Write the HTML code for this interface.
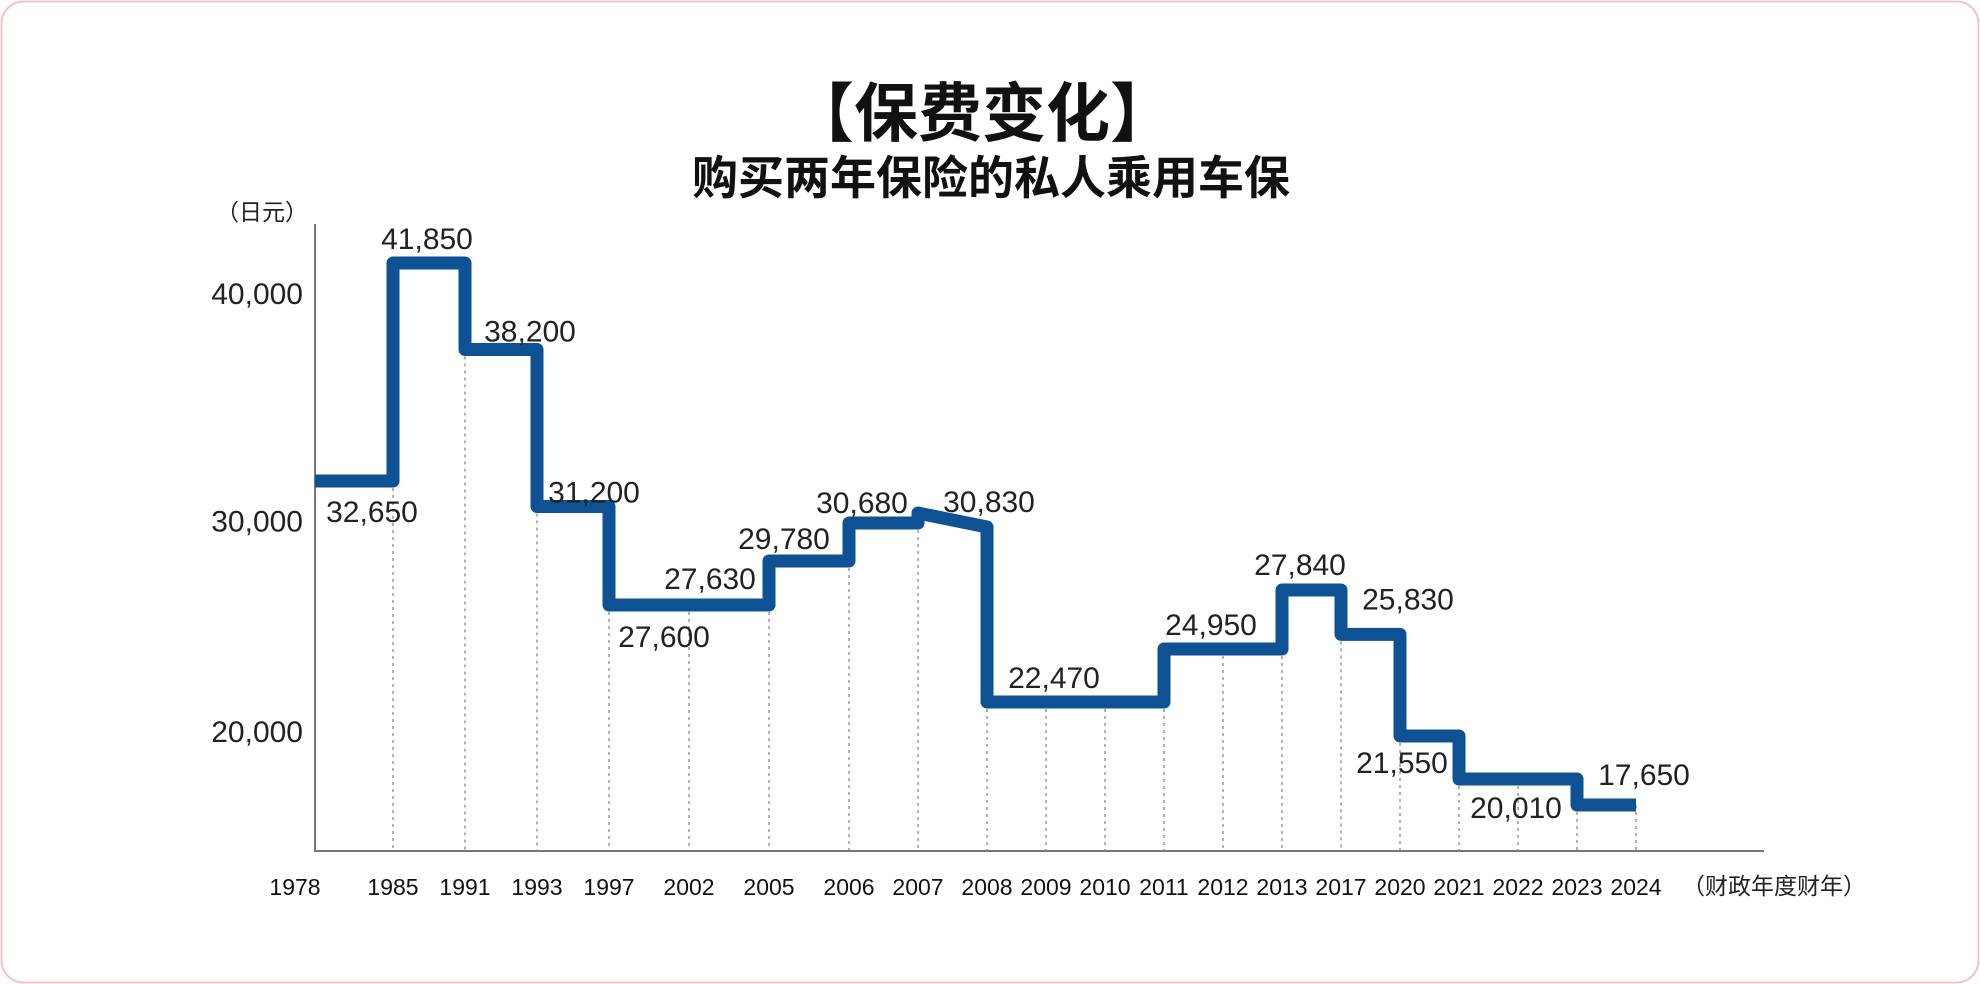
<!DOCTYPE html>
<html><head><meta charset="utf-8"><style>
html,body{margin:0;padding:0;background:#fff;}
svg{display:block;font-family:"Liberation Sans","Noto Sans CJK SC",sans-serif;}
</style></head><body>
<svg width="1980" height="984" viewBox="0 0 1980 984">
<rect x="1.5" y="1.5" width="1977" height="981" rx="22" fill="#fff" stroke="#f2c4c9" stroke-width="2"/>
<text x="982" y="136" text-anchor="middle" font-size="64" font-weight="bold" fill="#111" font-family="'Noto Sans CJK SC',sans-serif">【保费变化】</text>
<text x="991" y="194" text-anchor="middle" font-size="46" font-weight="bold" fill="#111" font-family="'Noto Sans CJK SC',sans-serif">购买两年保险的私人乘用车保</text>
<text x="262" y="220" text-anchor="middle" font-size="23" fill="#222" font-family="'Noto Sans CJK SC',sans-serif">（日元）</text>
<g id="grid"></g>
<line x1="315" y1="224" x2="315" y2="851" stroke="#777" stroke-width="2"/>
<line x1="314" y1="851" x2="1764" y2="851" stroke="#777" stroke-width="2"/>
<g id="yticks"></g>
<g id="xticks"></g>
<path id="series" fill="none" stroke="#0e5294" stroke-width="13" stroke-linejoin="round"/>
<g id="labels"></g>
<text x="1774" y="894" text-anchor="middle" font-size="23" fill="#222" font-family="'Noto Sans CJK SC',sans-serif">（财政年度财年）</text>
</svg>
<script>
const years = ["1978","1985","1991","1993","1997","2002","2005","2006","2007","2008","2009","2010","2011","2012","2013","2017","2020","2021","2022","2023","2024"];
const segStart = [0,1,2,3,4,6,7,8,9,12,14,15,16,17,19];
const segEnd   = [1,2,3,4,6,7,8,9,12,14,15,16,17,19,20];
const segValue = [32650,41850,38200,31200,27600,29780,30680,30830,22470,24950,27840,25830,21550,20010,17650];
const labelValues = [41850,38200,32650,31200,27630,27600,29780,30680,30830,22470,24950,27840,25830,21550,20010,17650];
const labelIdx    = [1,2,0,3,5,4,6,7,8,9,12,14,15,16,17,19];
const yTickValues = [40000,30000,20000];

const NS="http://www.w3.org/2000/svg";
// axis functions (non-uniform category axis and non-linear value axis, as drawn in source)
const xKnotI=[0,1,4,7,9,20], xKnotP=[315,393,609,849,987,1636];
const yKnotV=[17650,20010,21550,22470,24950,27600,27840,29780,30680,30830,32650,41850];
const yKnotP=[805,779,736,702,649,605,590,561,523,513,481,263];
function interp(v,a,b){ if(v<=a[0]) return b[0]+(v-a[0])*(b[1]-b[0])/(a[1]-a[0]);
  for(let i=1;i<a.length;i++){ if(v<=a[i]) return b[i-1]+(v-a[i-1])*(b[i]-b[i-1])/(a[i]-a[i-1]); }
  const n=a.length-1; return b[n]+(v-a[n])*(b[n]-b[n-1])/(a[n]-a[n-1]); }
const X=i=>interp(i,xKnotI,xKnotP);
const Y=v=>interp(v,yKnotV,yKnotP);
const fmt=v=>v.toLocaleString('en-US');

let d="";
for(let s=0;s<segValue.length;s++){
  const x0=X(segStart[s]), x1=X(segEnd[s]), y=Y(segValue[s]);
  d += (s===0?"M":"L")+x0+","+y+" ";
  if(segValue[s]===30830){ d+="L"+x1+","+(Y(segValue[s-1])+4)+" "; }
  else d+="L"+x1+","+y+" ";
}
document.getElementById('series').setAttribute('d',d);

const grid=document.getElementById('grid'), xt=document.getElementById('xticks');
years.forEach((yr,i)=>{
  const x=X(i);
  let lowest=0;
  for(let s=0;s<segValue.length;s++){ if(segStart[s]<=i&&segEnd[s]>=i) lowest=Math.max(lowest,Y(segValue[s])); }
  if(i>0){
    const l=document.createElementNS(NS,'line');
    l.setAttribute('x1',x);l.setAttribute('x2',x);l.setAttribute('y1',lowest);l.setAttribute('y2',851);
    l.setAttribute('stroke','#888');l.setAttribute('stroke-width','1.3');l.setAttribute('stroke-dasharray','3,4');
    
    
    grid.appendChild(l);
  }
  const t=document.createElementNS(NS,'text');
  t.setAttribute('x',i===0?X(0)-20:x);t.setAttribute('y',895);t.setAttribute('text-anchor','middle');
  t.setAttribute('font-size','23');t.setAttribute('fill','#111');t.textContent=yr;
  
  
  xt.appendChild(t);
});

const tickDy=[-3,-20,-37];
const yt=document.getElementById('yticks');
yTickValues.forEach((v,k)=>{
  const t=document.createElementNS(NS,'text');
  t.setAttribute('x',303);t.setAttribute('y',Y(v)+tickDy[k]);t.setAttribute('text-anchor','end');
  t.setAttribute('font-size','30');t.setAttribute('fill','#222');t.textContent=fmt(v);
  
  
  yt.appendChild(t);
});

const labDx=[34,65,57,57,21,55,15,13,71,67,47,18,67,2,57,67];
const labDy=[-25,-19,30,-15,-25,31,-23,-21,-12,-25,-25,-26,-36,26,28,-31];
const lg=document.getElementById('labels');
labelValues.forEach((v,k)=>{
  const t=document.createElementNS(NS,'text');
  t.setAttribute('x',X(labelIdx[k])+labDx[k]);t.setAttribute('y',Y(v)+labDy[k]+11);
  t.setAttribute('text-anchor','middle');t.setAttribute('font-size','30');t.setAttribute('fill','#222');
  t.textContent=fmt(v);
  
  
  lg.appendChild(t);
});
</script>
</body></html>
